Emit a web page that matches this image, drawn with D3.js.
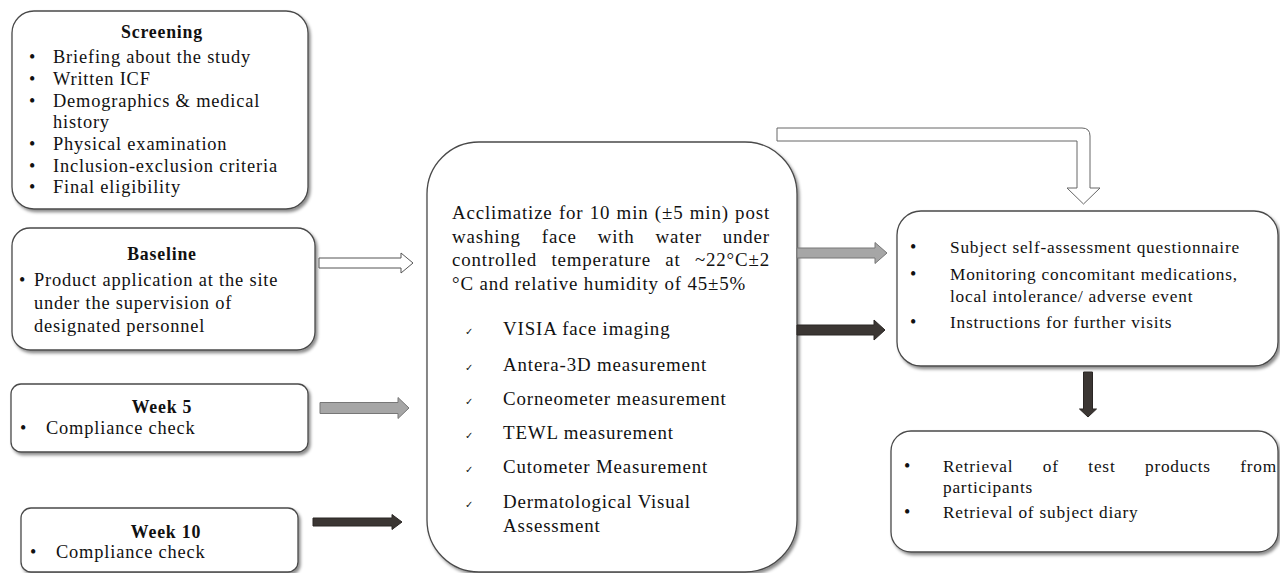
<!DOCTYPE html>
<html>
<head>
<meta charset="utf-8">
<script src="https://cdn.jsdelivr.net/npm/d3@7"></script>
<style>
  body { margin: 0; background: #fff; }
  svg { display: block; }
</style>
</head>
<body>
<div id="flow"></div>
<script>
const width = 1280
const height = 573

// texts of the flow chart
const screeningTitle = "Screening"
const screeningItems = [
  ["Briefing about the study"],
  ["Written ICF"],
  ["Demographics & medical", "history"],
  ["Physical examination"],
  ["Inclusion-exclusion criteria"],
  ["Final eligibility"],
]
const baselineTitle = "Baseline"
const baselineItems = [["Product application at the site", "under the supervision of", "designated personnel"]]
const week5Title = "Week 5"
const week10Title = "Week 10"
const weekItems = [["Compliance check"]]
const visitIntro = [
  "Acclimatize for 10 min (±5 min) post",
  "washing face with water under",
  "controlled temperature at ~22°C±2",
  "°C and relative humidity of 45±5%",
]
const assessments = [
  ["VISIA face imaging"],
  ["Antera-3D measurement"],
  ["Corneometer measurement"],
  ["TEWL measurement"],
  ["Cutometer Measurement"],
  ["Dermatological Visual", "Assessment"],
]
const visitTasks = [
  ["Subject self-assessment questionnaire"],
  ["Monitoring concomitant medications,", "local intolerance/ adverse event"],
  ["Instructions for further visits"],
]
const endTasks = [["Retrieval of test products from", "participants"], ["Retrieval of subject diary"]]

const serif = "'Liberation Serif', 'DejaVu Serif', serif"
const fs = 18.4

const svg = d3.select("#flow").append("svg").attr("width", width).attr("height", height)

const defs = svg.append("defs")
const shadow = defs.append("filter").attr("id", "shadow").attr("x", "-5%").attr("y", "-5%").attr("width", "115%").attr("height", "115%")
shadow.append("feDropShadow").attr("dx", 2).attr("dy", 2.5).attr("stdDeviation", 1.6)
  .attr("flood-color", "#000").attr("flood-opacity", 0.45)

function box(x, y, w, h, r) {
  svg.append("rect")
    .attr("x", x).attr("y", y).attr("width", w).attr("height", h)
    .attr("rx", r).attr("ry", r)
    .style("fill", "#fff")
    .style("stroke", "#4a4a4a")
    .style("stroke-width", 1.3)
    .style("filter", "url(#shadow)")
}

function label(x, y, txt, opts = {}) {
  return svg.append("text")
    .attr("x", x).attr("y", y)
    .attr("text-anchor", opts.anchor || "start")
    .style("font-family", opts.family || serif)
    .style("font-size", (opts.size || fs) + "px")
    .style("font-weight", opts.weight || "normal")
    .style("letter-spacing", opts.family ? "0" : "0.045em")
    .style("fill", "#111")
    .text(txt)
}

// words spread out between x0 and x1
function justified(x0, x1, y, txt, size) {
  const words = txt.split(" ")
  const nodes = words.map((w) => label(0, y, w, { size: size }))
  const widths = nodes.map((n) => n.node().getComputedTextLength())
  const gap = (x1 - x0 - d3.sum(widths)) / (words.length - 1)
  let x = x0
  nodes.forEach((n, i) => {
    n.attr("x", x)
    x += widths[i] + gap
  })
}

// bulleted list; items are arrays of wrapped lines
function list(items, bx, tx, baselines, opts = {}) {
  let k = 0
  items.forEach((lines) => {
    label(bx, baselines[k], opts.mark || "•", {
      size: opts.markSize || 18,
      family: opts.markFamily || "'Liberation Serif', serif",
    })
    lines.forEach((ln) => {
      if (opts.justify && opts.justify.includes(ln)) justified(tx, opts.right, baselines[k], ln, opts.size)
      else label(tx, baselines[k], ln, { size: opts.size })
      k++
    })
  })
}

function hArrow(x0, x1, cy, sh, hh, hl, fill, stroke) {
  const pts = [
    [x0, cy - sh], [x1 - hl, cy - sh], [x1 - hl, cy - hh], [x1, cy],
    [x1 - hl, cy + hh], [x1 - hl, cy + sh], [x0, cy + sh],
  ]
  svg.append("polygon")
    .attr("points", pts.map((p) => p.join(",")).join(" "))
    .style("fill", fill).style("stroke", stroke).style("stroke-width", 1)
}

function vArrow(cx, y0, y1, sw, hw, hl, fill, stroke) {
  const pts = [
    [cx - sw, y0], [cx + sw, y0], [cx + sw, y1 - hl], [cx + hw, y1 - hl], [cx, y1],
    [cx - hw, y1 - hl], [cx - sw, y1 - hl],
  ]
  svg.append("polygon")
    .attr("points", pts.map((p) => p.join(",")).join(" "))
    .style("fill", fill).style("stroke", stroke).style("stroke-width", 1)
}

// Screening
box(12, 11, 296, 198, 22)
label(162, 38, screeningTitle, { anchor: "middle", weight: "bold", size: 17.8 })
list(screeningItems, 29, 53, [63, 85, 107, 128, 150, 172, 193])

// Baseline
box(12, 228, 303, 122, 18)
label(162, 260, baselineTitle, { anchor: "middle", weight: "bold", size: 17.8 })
list(baselineItems, 19, 34, [286, 309, 332])

// Week 5 & Week 10
box(11, 384, 297, 68, 10)
label(162, 413, week5Title, { anchor: "middle", weight: "bold", size: 17.8 })
list(weekItems, 20, 46, [434])

box(21, 508, 277, 64, 10)
label(166, 538, week10Title, { anchor: "middle", weight: "bold", size: 17.8 })
list(weekItems, 30, 56, [558])

// arrows into the visit box
hArrow(319, 413, 263, 5, 10, 12, "#fff", "#555")
hArrow(320, 409, 408, 5.5, 10.5, 11, "#a6a6a6", "#777")
hArrow(313, 402, 522, 4, 7.5, 10, "#3b3633", "#2a2624")

// central visit box
box(427, 142, 370, 430, 52)
visitIntro.forEach((ln, i) => {
  const y = [219, 243, 266, 290][i]
  if (i < visitIntro.length - 1) justified(452, 770, y, ln, 18.9)
  else label(452, y, ln, { size: 18.9 })
})
list(assessments, 465, 503, [335, 371, 405, 439, 473, 508, 532], {
  mark: "✓", markSize: 10, markFamily: "'DejaVu Sans', sans-serif", size: 18.9,
})

// arrows out of the visit box
hArrow(797, 887, 253, 5, 10.5, 12, "#a6a6a6", "#777")
hArrow(797, 885, 330, 5, 10, 11, "#3b3633", "#2a2624")

// bent hollow arrow over the top
const bent = d3.path()
bent.moveTo(777, 128)
bent.lineTo(1082, 128)
bent.quadraticCurveTo(1090, 128, 1090, 136)
bent.lineTo(1090, 188)
bent.lineTo(1100, 188)
bent.lineTo(1083.5, 204)
bent.lineTo(1067, 188)
bent.lineTo(1077, 188)
bent.lineTo(1077, 141)
bent.lineTo(777, 141)
bent.closePath()
svg.append("path").attr("d", bent.toString())
  .style("fill", "#fff").style("stroke", "#666").style("stroke-width", 1)

// visit tasks box
box(897, 211, 381, 155, 24)
list(visitTasks, 910, 950, [253, 280, 302, 328], { size: 17.3 })

vArrow(1088, 372, 417, 4.5, 8.5, 8, "#3b3633", "#2a2624")

// end-of-study box
box(891, 431, 387, 121, 20)
list(endTasks, 904, 943, [472, 493, 518], { size: 17.3, justify: [endTasks[0][0]], right: 1277 })
</script>
</body>
</html>
